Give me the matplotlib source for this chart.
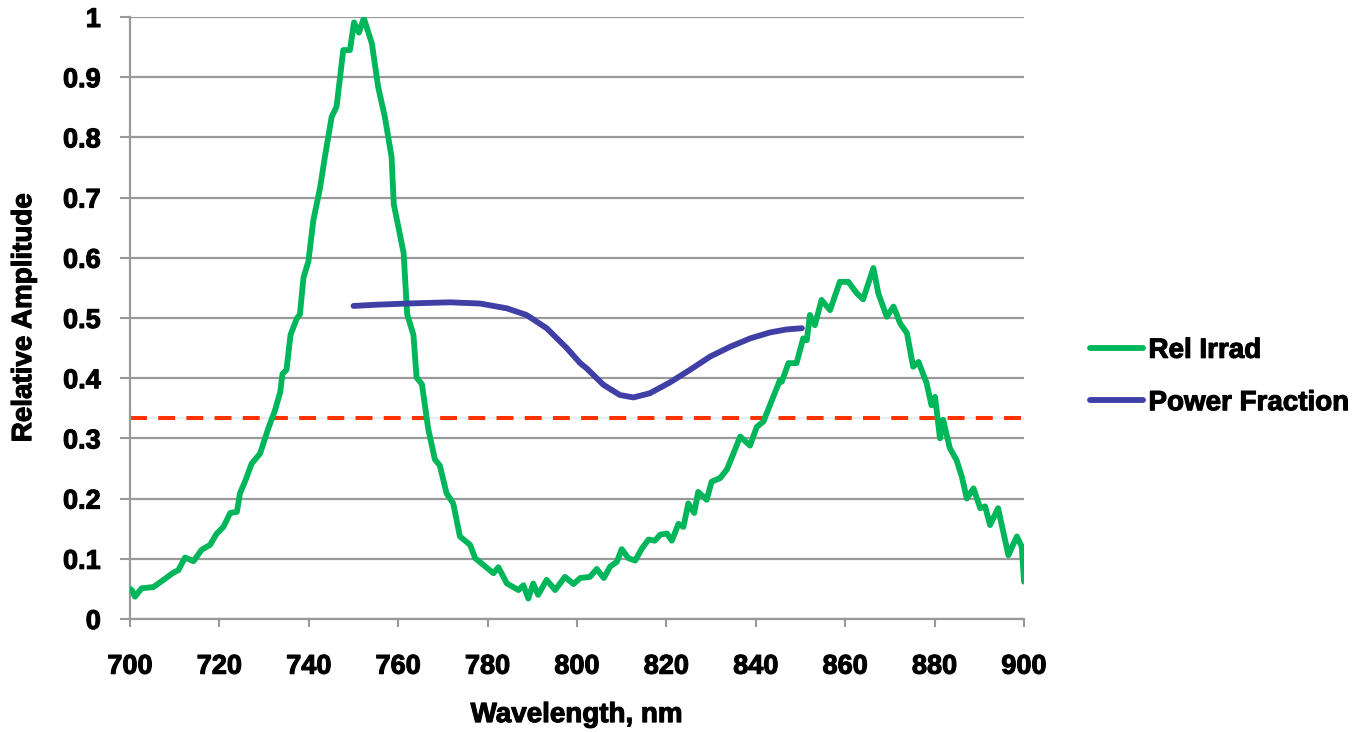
import matplotlib.pyplot as plt
import matplotlib.patheffects as pe

# Rel Irrad (green)
wl_irrad = [700.0, 700.4, 701.1, 702.6, 705.2, 707.5, 709.7, 710.8, 712.3, 714.2, 716.0,
            717.9, 719.4, 720.9, 722.4, 723.9, 724.6, 725.7, 727.2, 729.1, 730.9, 732.4,
            733.6, 734.1, 735.0, 735.9, 737.3, 738.0, 738.8, 739.9, 741.0, 742.5, 743.6,
            745.1, 746.2, 747.7, 749.2, 750.1, 751.2, 752.3, 754.1, 755.5, 757.0, 758.5,
            759.0, 761.2, 762.0, 763.4, 764.1, 765.3, 766.7, 768.2, 769.3, 770.8, 772.3,
            773.8, 776.1, 777.2, 779.0, 781.3, 782.4, 784.3, 786.9, 788.0, 789.1, 790.2,
            791.3, 793.2, 795.1, 797.3, 799.2, 800.7, 802.9, 804.4, 806.0, 807.4, 808.9,
            810.0, 811.5, 813.0, 814.5, 816.0, 817.4, 818.6, 820.1, 821.2, 822.7, 823.8,
            824.9, 826.2, 827.1, 829.0, 830.1, 832.0, 833.5, 835.0, 836.5, 838.7, 840.2,
            841.7, 843.9, 845.4, 845.8, 847.3, 849.1, 850.6, 851.4, 852.1, 853.2, 854.7,
            856.6, 858.8, 860.7, 862.6, 864.0, 866.3, 867.4, 869.3, 870.8, 872.3, 873.8,
            875.2, 876.4, 878.2, 879.3, 880.1, 881.2, 881.9, 883.4, 884.9, 886.1, 887.2,
            888.7, 890.2, 891.3, 892.4, 894.2, 896.5, 898.4, 899.5, 900.0]
rel_irrad = [0.050, 0.048, 0.037, 0.051, 0.053, 0.065, 0.077, 0.081, 0.102, 0.096, 0.115,
             0.123, 0.142, 0.153, 0.176, 0.178, 0.209, 0.228, 0.258, 0.275, 0.316, 0.346,
             0.377, 0.407, 0.414, 0.472, 0.499, 0.506, 0.567, 0.594, 0.662, 0.716, 0.768,
             0.834, 0.851, 0.945, 0.945, 0.991, 0.974, 0.998, 0.956, 0.884, 0.834, 0.768,
             0.689, 0.608, 0.506, 0.472, 0.401, 0.390, 0.316, 0.265, 0.255, 0.209, 0.192,
             0.137, 0.123, 0.101, 0.090, 0.076, 0.086, 0.059, 0.048, 0.056, 0.034, 0.059,
             0.040, 0.065, 0.048, 0.070, 0.058, 0.068, 0.070, 0.083, 0.068, 0.087, 0.095,
             0.116, 0.101, 0.097, 0.117, 0.132, 0.130, 0.140, 0.142, 0.130, 0.158, 0.153,
             0.192, 0.176, 0.211, 0.198, 0.228, 0.234, 0.248, 0.275, 0.303, 0.288, 0.319,
             0.328, 0.369, 0.397, 0.394, 0.425, 0.425, 0.466, 0.463, 0.505, 0.488, 0.530,
             0.513, 0.560, 0.560, 0.541, 0.531, 0.583, 0.541, 0.502, 0.519, 0.491, 0.475,
             0.419, 0.427, 0.392, 0.355, 0.369, 0.300, 0.331, 0.284, 0.264, 0.236, 0.200,
             0.217, 0.184, 0.187, 0.156, 0.184, 0.106, 0.137, 0.120, 0.062]

# Power Fraction (blue)
wl_power = [750.0, 755.0, 761.9, 766.5, 771.6, 778.3, 784.3, 788.7, 793.2, 797.7,
            800.7, 802.2, 805.9, 809.6, 812.6, 816.3, 820.8, 825.3, 829.8, 834.2,
            838.7, 843.2, 846.9, 850.3]
power_frac = [0.520, 0.522, 0.524, 0.525, 0.526, 0.524, 0.516, 0.505, 0.483, 0.450,
              0.425, 0.416, 0.389, 0.372, 0.368, 0.375, 0.393, 0.414, 0.436, 0.452,
              0.466, 0.476, 0.481, 0.483]

threshold = 1 / 3
x_ticks = [700, 720, 740, 760, 780, 800, 820, 840, 860, 880, 900]
y_ticks = [0, 0.1, 0.2, 0.3, 0.4, 0.5, 0.6, 0.7, 0.8, 0.9, 1]
y_labels = ["0", "0.1", "0.2", "0.3", "0.4", "0.5", "0.6", "0.7", "0.8", "0.9", "1"]

plt.rcParams['font.family'] = ['Liberation Sans', 'DejaVu Sans']
plt.rcParams['font.weight'] = 'bold'
heavy = [pe.withStroke(linewidth=0.8, foreground='black')]

fig = plt.figure(figsize=(13.69, 7.32), dpi=100)
ax = fig.add_axes([0.095, 0.1544, 0.653, 0.8224])

ax.plot(wl_irrad, rel_irrad, color='#00B65A', lw=4.2, label='Rel Irrad', zorder=3,
        solid_joinstyle='round', solid_capstyle='round')
ax.plot(wl_power, power_frac, color='#3F3FA6', lw=4.2, label='Power Fraction', zorder=4,
        solid_joinstyle='round', solid_capstyle='round')
ax.axhline(threshold, color='#DDEEF2', lw=1.2, zorder=2)
ax.axhline(threshold, color='#FF3300', lw=2.9, dashes=(4.2, 2.8), zorder=2)

ax.set_xlim(700, 900)
ax.set_ylim(0, 1)
ax.set_xticks(x_ticks)
ax.set_yticks(y_ticks)
ax.set_yticklabels(y_labels)
ax.tick_params(axis='both', labelsize=19.5, labelcolor='black', color='#999999',
               width=1.5)
ax.tick_params(axis='x', length=6, pad=19)
ax.tick_params(axis='y', length=7, pad=14)
for lab in ax.get_xticklabels() + ax.get_yticklabels():
    lab.set_fontweight('bold')
    lab.set_path_effects(heavy)

ax.grid(axis='y', color='#999999', lw=1.6)
ax.set_axisbelow(True)
for s in ['top', 'right']:
    ax.spines[s].set_visible(False)
for s in ['left', 'bottom']:
    ax.spines[s].set_color('#999999')
    ax.spines[s].set_linewidth(1.6)

xl = ax.set_xlabel('Wavelength, nm', fontsize=20, fontweight='bold')
yl = ax.set_ylabel('Relative Amplitude', fontsize=20, fontweight='bold')
ax.xaxis.set_label_coords(0.4994, -0.138)
ax.yaxis.set_label_coords(-0.104, 0.5)
xl.set_path_effects(heavy)
yl.set_path_effects(heavy)

leg = ax.legend(loc='center left', bbox_to_anchor=(1.074, 0.402), frameon=False,
                handlelength=1.9, handletextpad=0.2, labelspacing=0.95,
                borderpad=0, borderaxespad=0, prop={'weight': 'bold', 'size': 20})
for t in leg.get_texts():
    t.set_path_effects(heavy)

fig.savefig('out.png', dpi=100)
